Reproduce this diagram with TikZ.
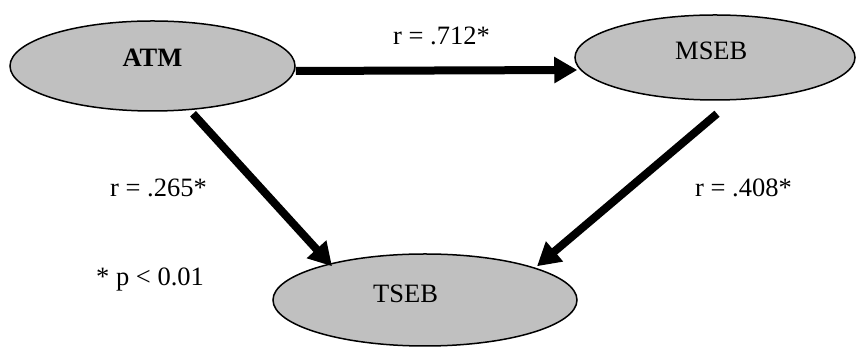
\documentclass[tikz,border=0pt]{standalone}
\usepackage{fontspec}
\setmainfont{Liberation Serif}
\usetikzlibrary{arrows.meta,shapes.geometric}
\definecolor{nodegray}{RGB}{192,192,192}
\tikzset{
  construct/.style={ellipse, draw=black, line width=1.5pt, fill=nodegray, inner sep=0pt},
  txt/.style={inner sep=0pt, font=\fontsize{26.5}{30}\selectfont},
  path/.style={line width=8pt, -{Triangle[length=23pt,width=25pt]}}
}
\begin{document}
\begin{tikzpicture}[x=1pt,y=1pt]
  \useasboundingbox (0,0) rectangle (868,363);
  % constructs
  \node[construct, minimum width=285pt, minimum height=90pt] (ATM) at (152.5,297) {};
  \node[construct, minimum width=280pt, minimum height=85pt] (MSEB) at (715,305.5) {};
  \node[construct, minimum width=304pt, minimum height=92pt] (TSEB) at (425,63) {};
  % construct names
  \node[txt, anchor=base] (ATMtxt) at (152.5,296) {\bfseries ATM};
  \node[txt, anchor=base west] (MSEBtxt) at (675,303) {MSEB};
  \node[txt, anchor=base west] (TSEBtxt) at (373,60) {TSEB};
  % paths
  \draw[path] ([yshift=-5pt]ATM.east) -- ([shift={(3pt,-12.5pt)}]MSEB.west);
  \draw[path] ([shift={(40.5pt,-2pt)}]ATM.south) -- ([shift={(-93pt,-13pt)}]TSEB.north);
  \draw[path] ([shift={(2pt,-13pt)}]MSEB.south) -- ([shift={(112pt,-13pt)}]TSEB.north);
  % coefficients
  \node[txt, anchor=base west] (r1) at (393,318) {r = .712*};
  \node[txt, anchor=base west] (r2) at (110,166) {r = .265*};
  \node[txt, anchor=base west] (r3) at (695,166) {r = .408*};
  \node[txt, anchor=base west] (note) at (96,77) {* p < 0.01};
\end{tikzpicture}
\end{document}
